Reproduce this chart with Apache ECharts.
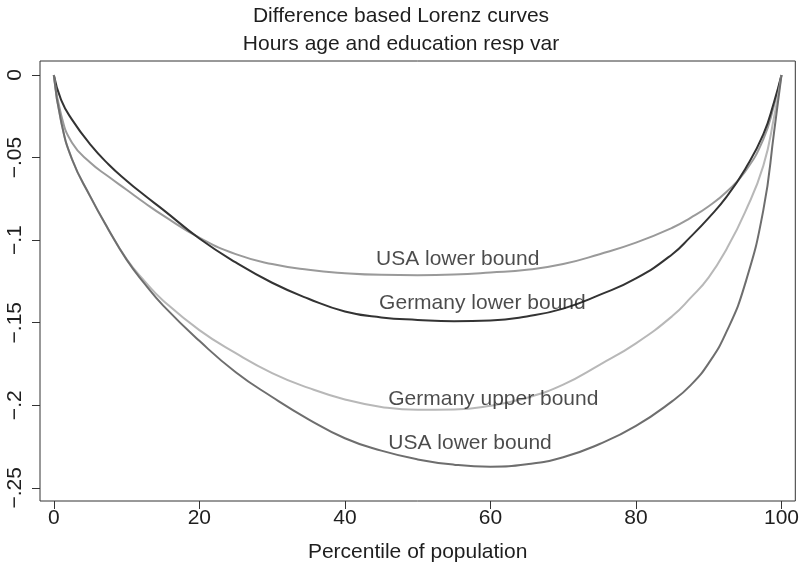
<!DOCTYPE html>
<html>
<head>
<meta charset="utf-8">
<script src="https://cdn.jsdelivr.net/npm/echarts@6/dist/echarts.min.js"></script>
<style>html,body{margin:0;padding:0;background:#fff}#chart{width:802px;height:573px}</style>
</head>
<body>
<div id="chart"></div>
<script>
// ---- data ----
const percentiles = [0, 1, 2.5, 5, 7.5, 10, 12.5, 15, 20, 25, 30, 35, 40, 45, 50, 55, 60, 65, 70, 75, 80, 85, 87.5, 90, 92.5, 95, 97.5, 99, 100];
const usaLowerA = [0, -0.024, -0.041, -0.053, -0.0615, -0.0695, -0.0775, -0.0850, -0.0985, -0.1085, -0.1145, -0.118, -0.120, -0.121, -0.1212, -0.1208, -0.1196, -0.118, -0.1145, -0.1085, -0.1015, -0.0925, -0.0865, -0.0795, -0.0705, -0.0585, -0.039, -0.018, 0];
const germanyLower = [0, -0.015, -0.027, -0.042, -0.054, -0.064, -0.073, -0.0815, -0.099, -0.1135, -0.1258, -0.1355, -0.1432, -0.1468, -0.1483, -0.1491, -0.1487, -0.1462, -0.1415, -0.1332, -0.1232, -0.1085, -0.098, -0.0865, -0.0735, -0.057, -0.036, -0.016, 0];
const germanyUpper = [0, -0.028, -0.051, -0.0735, -0.0935, -0.1115, -0.125, -0.1365, -0.1545, -0.1685, -0.1805, -0.1895, -0.1965, -0.201, -0.2028, -0.2026, -0.2003, -0.1955, -0.1875, -0.1755, -0.1625, -0.146, -0.135, -0.1225, -0.105, -0.083, -0.055, -0.025, 0];
const usaLowerB = [0, -0.028, -0.051, -0.0735, -0.0935, -0.1118, -0.1265, -0.1395, -0.161, -0.180, -0.195, -0.2085, -0.220, -0.2275, -0.2328, -0.236, -0.2372, -0.2358, -0.2315, -0.2235, -0.2125, -0.1975, -0.188, -0.1745, -0.155, -0.1265, -0.082, -0.034, 0];

const seriesNames = ['USA lower bound', 'Germany lower bound', 'Germany upper bound', 'USA lower bound'];
const labelX = [55.5, 58.9, 60.4, 57.2];
const labelY = [-0.1115, -0.1379, -0.1964, -0.2227];

const xTickValues = [0, 20, 40, 60, 80, 100];
const xTickLabels = ['0', '20', '40', '60', '80', '100'];
const yTickValues = [0, -0.05, -0.1, -0.15, -0.2, -0.25];
const yTickLabels = ['0', '\u2212.05', '\u2212.1', '\u2212.15', '\u2212.2', '\u2212.25'];

const titleText = 'Difference based Lorenz curves';
const subtitleText = 'Hours age and education resp var';
const xAxisTitle = 'Percentile of population';

// ---- chart ----
const FONT = '"Liberation Sans", Arial, Helvetica, sans-serif';
const TXT = '#1e1e1e';
const pick = (vals, labs) => v => {
  const i = vals.findIndex(t => Math.abs(t - v) < 1e-9);
  return i >= 0 ? labs[i] : '';
};
const toPairs = arr => percentiles.map((x, i) => [x, arr[i]]);

const lineColors = ['#9a9a9a', '#333333', '#b8b8b8', '#6e6e6e'];
const seriesData = [usaLowerA, germanyLower, germanyUpper, usaLowerB];

const series = seriesData.map((arr, k) => ({
  type: 'line',
  name: seriesNames[k],
  data: toPairs(arr),
  smooth: 0.5,
  showSymbol: false,
  symbol: 'none',
  lineStyle: { color: lineColors[k], width: 2 },
  z: 2
}));
series.push({
  type: 'scatter',
  name: 'labels',
  data: seriesNames.map((n, k) => [labelX[k], labelY[k], n]),
  symbolSize: 0,
  silent: true,
  z: 5,
  label: {
    show: true,
    position: 'inside',
    formatter: p => p.data[2],
    fontFamily: FONT,
    fontSize: 21,
    color: TXT
  }
});

const chart = echarts.init(document.getElementById('chart'), null, { renderer: 'canvas' });
chart.setOption({
  animation: false,
  backgroundColor: '#fff',
  title: {
    text: titleText,
    subtext: subtitleText,
    left: 'center',
    top: -3,
    itemGap: 0,
    textStyle: { fontFamily: FONT, fontSize: 21, fontWeight: 'normal', color: TXT, lineHeight: 28 },
    subtextStyle: { fontFamily: FONT, fontSize: 21, color: TXT, lineHeight: 28 }
  },
  grid: {
    left: 40, right: 5, top: 61, bottom: 72,
    show: true, borderColor: '#333', borderWidth: 1, backgroundColor: '#fff'
  },
  xAxis: {
    type: 'value',
    min: -1.9, max: 101.9,
    axisLine: { show: false, onZero: false },
    splitLine: { show: false },
    axisTick: { show: true, inside: false, length: 8, lineStyle: { color: '#333' }, customValues: xTickValues },
    axisLabel: { fontFamily: FONT, fontSize: 21, color: TXT, margin: 7, customValues: xTickValues, formatter: pick(xTickValues, xTickLabels) },
    name: xAxisTitle,
    nameLocation: 'middle',
    nameGap: 41,
    nameTextStyle: { fontFamily: FONT, fontSize: 21, color: TXT }
  },
  yAxis: {
    type: 'value',
    min: -0.258, max: 0.0085,
    axisLine: { show: false, onZero: false },
    splitLine: { show: false },
    axisTick: { show: true, inside: false, length: 8, lineStyle: { color: '#333' }, customValues: yTickValues },
    axisLabel: { fontFamily: FONT, fontSize: 21, color: TXT, rotate: 90, margin: 14, customValues: yTickValues, formatter: pick(yTickValues, yTickLabels) }
  },
  series: series
});
</script>
</body>
</html>
